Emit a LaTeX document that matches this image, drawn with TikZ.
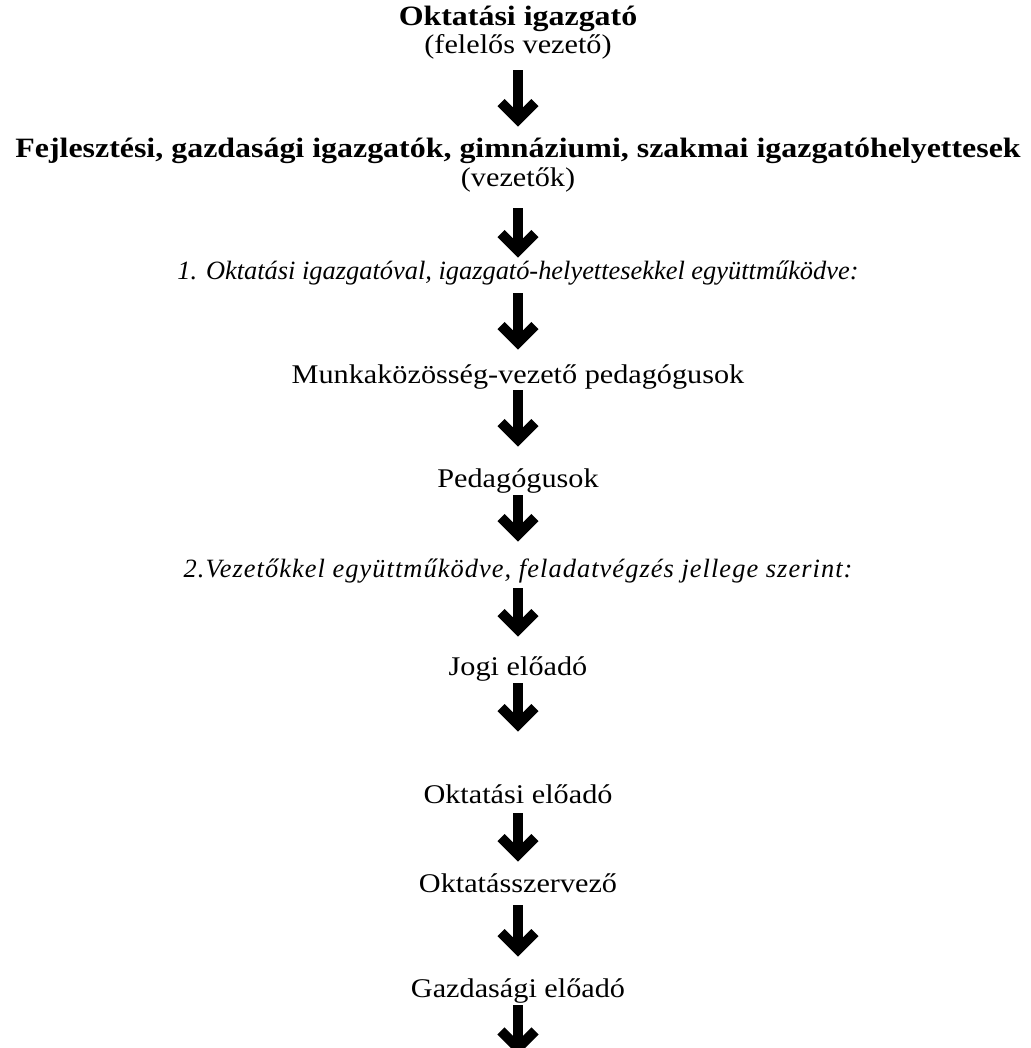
\documentclass[tikz,border=0pt]{standalone}
\usepackage{fontspec}
\setmainfont{Liberation Serif}
\usetikzlibrary{arrows.meta}
\tikzset{
  lbl/.style={inner sep=0pt, anchor=base, text height=9pt, text depth=3pt, font=\fontsize{13.5}{16}\selectfont\addfontfeature{FakeStretch=1.12}},
  lblb/.style={lbl, font=\fontsize{14}{17}\selectfont\bfseries\addfontfeature{FakeStretch=1.14}},
  lbli/.style={lbl, font=\fontsize{13.2}{16}\selectfont\itshape},
  bigdown/.style={line width=5pt, -{Straight Barb[length=8.5pt, width=17pt]}},
}
\begin{document}
\begin{tikzpicture}[x=0.5pt, y=-0.5pt]
\useasboundingbox (0,0) rectangle (1031,1048);
\node[lblb] (L1)  at (518,26)  {Oktatási igazgató};
\node[lbl]  (L2)  at (518,54)  {(felelős vezető)};
\node[lblb] (L3)  at (518,158) {Fejlesztési, gazdasági igazgatók, gimnáziumi, szakmai igazgatóhelyettesek};
\node[lbl]  (L4)  at (518,187) {(vezetők)};
\node[lbli] (L5)  at (518,279) {1. Oktatási igazgatóval, igazgató-helyettesekkel együttműködve:};
\node[lbl]  (L6)  at (518,383) {Munkaközösség-vezető pedagógusok};
\node[lbl]  (L7)  at (518,487) {Pedagógusok};
\node[lbli] (L8)  at (518,577) {\addfontfeature{LetterSpace=4}2.Vezetőkkel együttműködve, feladatvégzés jellege szerint:};
\node[lbl]  (L9)  at (518,675) {Jogi előadó};
\node[lbl]  (L10) at (518,803) {Oktatási előadó};
\node[lbl]  (L11) at (518,892) {Oktatásszervező};
\node[lbl]  (L12) at (518,997) {Gazdasági előadó};
\coordinate (E) at (518,1055);

\draw[bigdown, shorten <=5pt, shorten >=6.5pt] (L2) -- (L3);
\draw[bigdown, shorten <=7.5pt, shorten >=1.5pt] (L4) -- (L5);
\draw[bigdown, shorten <=4pt, shorten >=7.5pt] (L5) -- (L6);
\draw[bigdown, shorten <=0.5pt, shorten >=11pt] (L6) -- (L7);
\draw[bigdown, shorten <=1pt, shorten >=8.5pt] (L7) -- (L8);
\draw[bigdown, shorten <=2.5pt, shorten >=10pt] (L8) -- (L9);
\draw[bigdown, shorten <=1pt, shorten >=26.5pt] (L9) -- (L10);
\draw[bigdown, shorten <=2pt, shorten >=6pt] (L10) -- (L11);
\draw[bigdown, shorten <=3.5pt, shorten >=11pt] (L11) -- (L12);
\draw[bigdown, shorten <=1pt] (L12) -- (E);
\end{tikzpicture}
\end{document}
